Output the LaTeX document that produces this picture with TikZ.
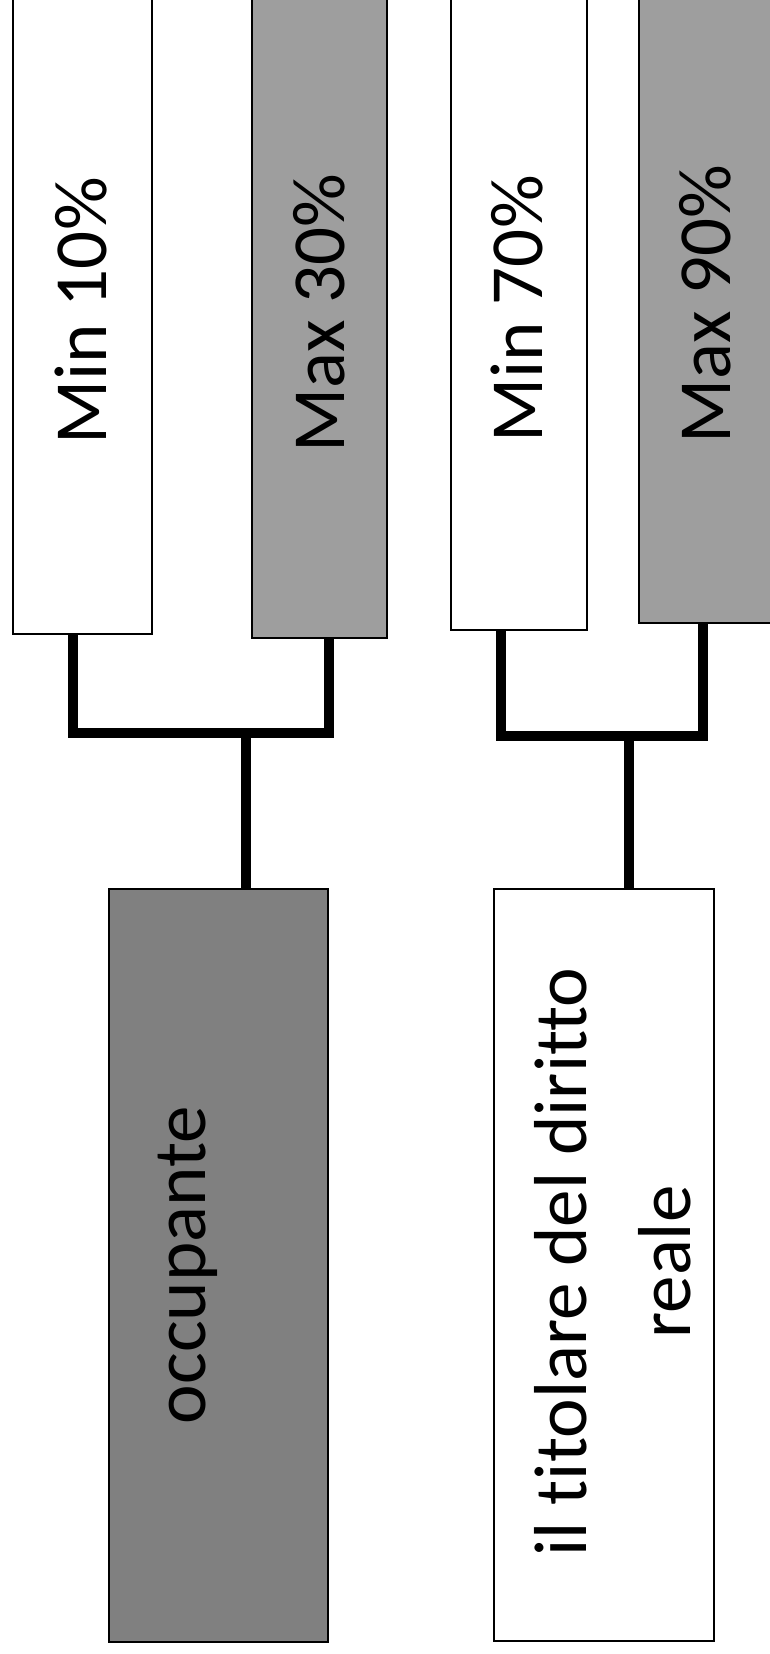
\documentclass[tikz,border=0pt]{standalone}
\usepackage{fontspec}
\setmainfont{Carlito}[Ligatures={NoCommon,NoContextual}]
\begin{document}
\begin{tikzpicture}[x=1pt,y=-1pt,
  box/.style={draw=black,line width=1.5pt,inner sep=0pt,outer sep=0pt},
  light/.style={box,fill=white},
  mid/.style={box,fill=black!38},
  dark/.style={box,fill=black!50},
  lbl/.style={font=\fontsize{75}{104}\selectfont,rotate=90,inner sep=0pt,anchor=base,text=black},
  conn/.style={line width=10.5pt,draw=black}]
\useasboundingbox (0,0) rectangle (770,1654);
% top boxes
\node[light,minimum width=139pt,minimum height=654pt] (min10) at (82.5,307) {};
\node[mid,minimum width=135pt,minimum height=658pt] (max30) at (319.5,309) {};
\node[light,minimum width=136pt,minimum height=650pt] (min70) at (519,305) {};
\node[mid,minimum width=135pt,minimum height=643pt] (max90) at (706.5,301.5) {};
% bottom boxes
\node[dark,minimum width=219pt,minimum height=753pt] (occ) at (218.5,1265.5) {};
\node[light,minimum width=220pt,minimum height=752pt] (tit) at (604,1265) {};
% labels
\node[lbl] (tmin10) at (106,311) {Min 10\%};
\node[lbl] (tmax30) at (344,313) {Max 30\%};
\node[lbl] (tmin70) at (542,309) {Min 70\%};
\node[lbl] (tmax90) at (730,304) {Max 90\%};
\node[lbl] (tocc) at (205,1265) {occupante};
\node[lbl,anchor=center,align=center] (ttit) at (613,1262) {il titolare del diritto\\reale};
% connectors
\coordinate (j1) at (246,733);
\draw[conn] ([xshift=-9.5pt]min10.south) |- (j1) -| ([xshift=9.5pt]max30.south);
\draw[conn] (j1) -- (j1 |- occ.north);
\coordinate (j2) at (629,736);
\draw[conn] ([xshift=-18pt]min70.south) |- (j2) -| ([xshift=-3.5pt]max90.south);
\draw[conn] (j2) -- (j2 |- tit.north);
\end{tikzpicture}
\end{document}
